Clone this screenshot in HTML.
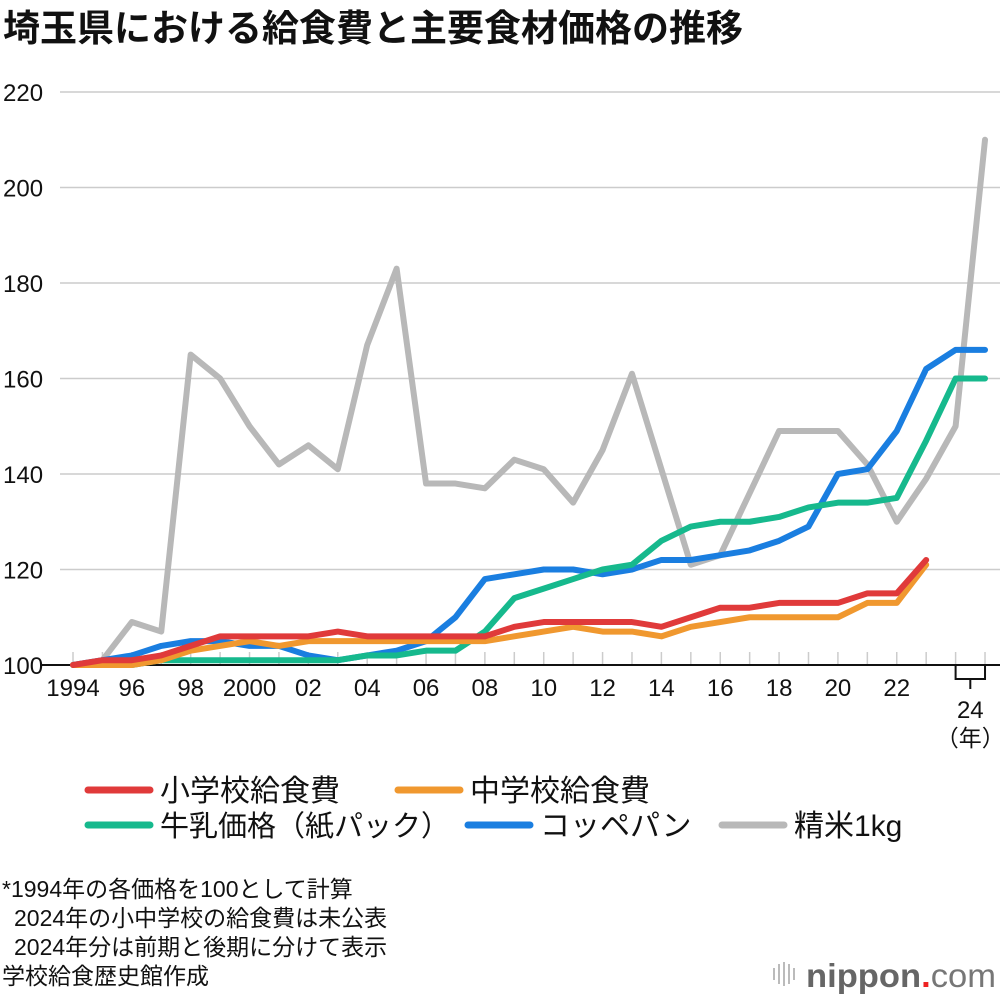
<!DOCTYPE html>
<html><head><meta charset="utf-8"><style>
body{margin:0;background:#fff;font-family:"Liberation Sans","Noto Sans CJK JP",sans-serif;}
#wrap{position:relative;width:1000px;height:996px;overflow:hidden;}
svg text{font-family:"Liberation Sans","Noto Sans CJK JP",sans-serif;}
</style></head><body>
<div id="wrap">
<svg id="chart" width="1000" height="996">
<text x="3" y="41" font-size="37" font-weight="bold" fill="#111">埼玉県における給食費と主要食材価格の推移</text>
<g id="grid"></g><g id="xaxis"></g><g id="series"></g>
<g>
<g><line x1="88" y1="790" x2="150" y2="790" stroke="#e03a3a" stroke-width="7" stroke-linecap="round"/><text x="160" y="801" font-size="30" fill="#111">小学校給食費</text></g>
<g><line x1="398" y1="790" x2="460" y2="790" stroke="#f0982f" stroke-width="7" stroke-linecap="round"/><text x="470" y="801" font-size="30" fill="#111">中学校給食費</text></g>
<g><line x1="88" y1="825" x2="150" y2="825" stroke="#16b98d" stroke-width="7" stroke-linecap="round"/><text x="160" y="836" font-size="29" fill="#111">牛乳価格（紙パック）</text></g>
<g><line x1="468" y1="825" x2="530" y2="825" stroke="#1a7ee0" stroke-width="7" stroke-linecap="round"/><text x="540" y="836" font-size="30" fill="#111">コッペパン</text></g>
<g><line x1="722" y1="825" x2="784" y2="825" stroke="#b8b8b8" stroke-width="7" stroke-linecap="round"/><text x="794" y="836" font-size="30" fill="#111">精米1kg</text></g>
</g>
<g font-size="23" fill="#111">
<text x="2" y="897">*1994年の各価格を100として計算</text>
<text x="14" y="926">2024年の小中学校の給食費は未公表</text>
<text x="14" y="955">2024年分は前期と後期に分けて表示</text>
<text x="2" y="984">学校給食歴史館作成</text>
</g>
<g>
<g stroke="#bbb" stroke-width="2"><line x1="774" y1="968" x2="774" y2="980"/><line x1="779" y1="964" x2="779" y2="984"/><line x1="784" y1="962" x2="784" y2="986"/><line x1="789" y1="964" x2="789" y2="984"/><line x1="794" y1="968" x2="794" y2="980"/></g>
<text x="806" y="987" font-size="33" font-weight="bold" fill="#666" textLength="190" lengthAdjust="spacingAndGlyphs">nippon<tspan fill="#e22">.</tspan><tspan font-weight="normal" fill="#777">com</tspan></text>
</g>
</svg>
</div>
<script>
const years=["1994","95","96","97","98","99","2000","01","02","03","04","05","06","07","08","09","10","11","12","13","14","15","16","17","18","19","20","21","22","23","24a","24b"];
const tickLabels=["1994","96","98","2000","02","04","06","08","10","12","14","16","18","20","22"];
const yTicks=[100,120,140,160,180,200,220];
const rice=[100,101,109,107,165,160,150,142,146,141,167,183,138,138,137,143,141,134,145,161,141,121,123,136,149,149,149,142,130,139,150,210];
const coppe=[100,101,102,104,105,105,104,104,102,101,102,103,105,110,118,119,120,120,119,120,122,122,123,124,126,129,140,141,149,162,166,166];
const milk=[100,100,100,101,101,101,101,101,101,101,102,102,103,103,107,114,116,118,120,121,126,129,130,130,131,133,134,134,135,147,160,160];
const junior=[100,100,100,101,103,104,105,104,105,105,105,105,105,105,105,106,107,108,107,107,106,108,109,110,110,110,110,113,113,121];
const elem=[100,101,101,102,104,106,106,106,106,107,106,106,106,106,106,108,109,109,109,109,108,110,112,112,113,113,113,115,115,122];
const NS="http://www.w3.org/2000/svg";
const X=i=>73+i*29.42;
const Y=v=>665-(v-100)*(573/120);
function mk(tag,attrs,parent){const e=document.createElementNS(NS,tag);for(const k in attrs)e.setAttribute(k,attrs[k]);parent.appendChild(e);return e;}
const grid=document.getElementById('grid');
yTicks.forEach(v=>{
  if(v>100){const l=mk('line',{x1:60,x2:1000,y1:Y(v),y2:Y(v),stroke:'#ccc','stroke-width':1.5},grid);
  
  }
  const t=mk('text',{x:3,y:Y(v)+9,'font-size':24,fill:'#111'},grid);t.textContent=v;
  
  
});
const xa=document.getElementById('xaxis');
years.forEach((y,i)=>{const l=mk('line',{x1:X(i),x2:X(i),y1:652,y2:665,stroke:'#ccc','stroke-width':1.5},xa);
  
  });
const ax=mk('line',{x1:40,x2:1000,y1:665,y2:665,stroke:'#111','stroke-width':2},xa);


tickLabels.forEach((lab,k)=>{const t=mk('text',{x:X(k*2),y:696,'font-size':24,fill:'#111','text-anchor':'middle'},xa);t.textContent=lab;
  
  });
const br=mk('path',{d:`M${X(30)},665V679H${X(31)}V665M${(X(30)+X(31))/2},679V689`,fill:'none',stroke:'#111','stroke-width':2},xa);


const t24=mk('text',{x:(X(30)+X(31))/2,y:718,'font-size':24,fill:'#111','text-anchor':'middle'},xa);t24.textContent='24';


const tn=mk('text',{x:(X(30)+X(31))/2,y:746,'font-size':23,fill:'#111','text-anchor':'middle'},xa);tn.textContent='（年）';


const sg=document.getElementById('series');
[[rice,'#b8b8b8','line-rice'],[coppe,'#1a7ee0','line-coppe-pan'],[milk,'#16b98d','line-milk'],[junior,'#f0982f','line-junior-high'],[elem,'#e03a3a','line-elementary']].forEach(([d,c,n])=>{
  const p=mk('polyline',{points:d.map((v,i)=>X(i)+','+Y(v)).join(' '),fill:'none',stroke:c,'stroke-width':6,'stroke-linejoin':'round','stroke-linecap':'round'},sg);
  
  
});
</script>
</body></html>
